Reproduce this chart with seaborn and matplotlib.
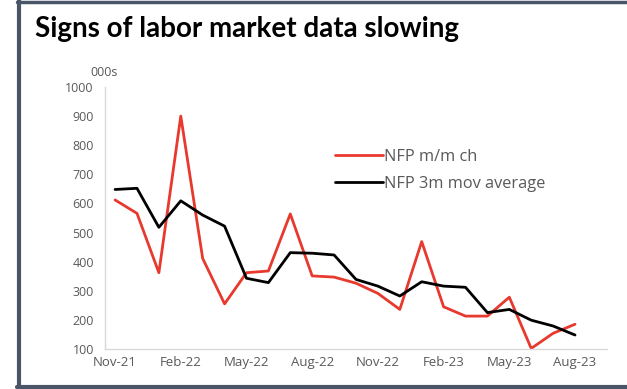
import matplotlib
matplotlib.use("Agg")
import matplotlib.pyplot as plt
import seaborn as sns
import pandas as pd
from matplotlib.lines import Line2D

months = ["Nov-21", "Dec-21", "Jan-22", "Feb-22", "Mar-22", "Apr-22", "May-22", "Jun-22",
          "Jul-22", "Aug-22", "Sep-22", "Oct-22", "Nov-22", "Dec-22", "Jan-23", "Feb-23",
          "Mar-23", "Apr-23", "May-23", "Jun-23", "Jul-23", "Aug-23"]
nfp_mm = [612, 566, 362, 900, 411, 255, 362, 368, 564, 351, 347, 326, 291, 236, 469, 245,
          213, 213, 278, 102, 154, 185]
nfp_3m = [648, 652, 518, 609, 560, 522, 343, 328, 431, 429, 423, 339, 316, 282, 331, 316,
          312, 225, 236, 199, 179, 148]
y_ticks = [100, 200, 300, 400, 500, 600, 700, 800, 900, 1000]
series_names = ["NFP m/m ch", "NFP 3m mov average"]

sns.set_theme(style="white")
plt.rcParams['font.family'] = ['Open Sans', 'DejaVu Sans']

W, H = 627, 389
fig = plt.figure(figsize=(W / 100, H / 100), dpi=100)
fig.patch.set_facecolor("white")

ax = fig.add_axes([105 / W, 1 - 349 / H, (607 - 105) / W, (349 - 87) / H])

df = pd.DataFrame({"idx": range(len(months)), "month": months,
                   series_names[0]: nfp_mm, series_names[1]: nfp_3m})

red = "#E8392E"
sns.lineplot(data=df, x="idx", y=series_names[0], ax=ax, color=red, lw=2.0,
             label=series_names[0])
sns.lineplot(data=df, x="idx", y=series_names[1], ax=ax, color="black", lw=2.0,
             label=series_names[1])

ax.set_xlim(-0.46, 22.46)
ax.set_ylim(100, 1000)
ax.set_yticks(y_ticks)
ax.set_yticklabels([str(v) for v in y_ticks])
tick_pos = list(range(0, len(months), 3))
ax.set_xticks(tick_pos)
ax.set_xticklabels([months[i] for i in tick_pos])
ax.set_xlabel("")
ax.set_ylabel("")
ax.tick_params(axis="both", colors="#595959", length=0)
ax.tick_params(axis="y", pad=8, labelsize=9)
ax.tick_params(axis="x", pad=5, labelsize=9.5)
for s in ["top", "right"]:
    ax.spines[s].set_visible(False)
for s in ["left", "bottom"]:
    ax.spines[s].set_color("#D9D9D9")
    ax.spines[s].set_linewidth(1.0)
ax.grid(False)

leg = ax.legend(loc="upper left", bbox_to_anchor=((335 - 105) / (607 - 105), 1 - (149 - 87) / (349 - 87)),
                frameon=False, fontsize=11.8, handlelength=2.9, handletextpad=0.1,
                labelspacing=0.68, borderaxespad=0, borderpad=0)
for t in leg.get_texts():
    t.set_color("#595959")

fig.text(35 / W, 1 - 37 / H, "Signs of labor market data slowing", fontsize=20,
         fontweight="bold", color="black", family=["Lato", "DejaVu Sans"], va="baseline")
fig.text(90 / W, 1 - 73 / H, "000s", fontsize=9, color="#595959", va="center")

bc = "#4A5568"
fig.add_artist(Line2D([19 / W, 19 / W], [0, 1], transform=fig.transFigure, color=bc, lw=3.0))
fig.add_artist(Line2D([17 / W, 1], [1 - 1.5 / H, 1 - 1.5 / H], transform=fig.transFigure, color=bc, lw=2.5))
fig.add_artist(Line2D([17 / W, 1], [2 / H, 2 / H], transform=fig.transFigure, color=bc, lw=3.0))

fig.savefig("out.png", dpi=100, facecolor="white")
